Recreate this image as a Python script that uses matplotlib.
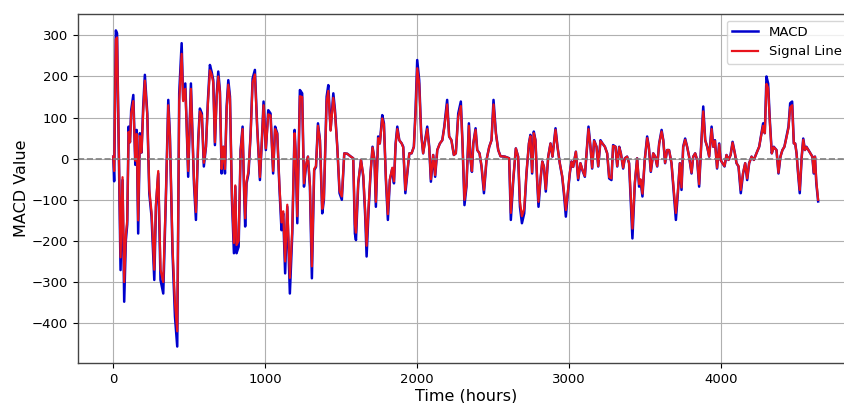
import matplotlib
matplotlib.use("Agg")
import matplotlib.pyplot as plt

# time axis (hours) -- turning points
hours = [
    0, 6, 17, 25, 40, 48, 61, 72, 83, 92,
    101, 110, 118, 132, 145, 154, 164, 175, 186, 197,
    208, 224, 237, 252, 270, 281, 296, 311, 329, 346,
    362, 373, 390, 406, 421, 434, 450, 460, 474, 482,
    493, 511, 531, 544, 559, 570, 583, 596, 610, 623,
    636, 647, 658, 669, 680, 691, 702, 713, 724, 735,
    746, 757, 768, 781, 794, 803, 811, 825, 838, 851,
    860, 868, 877, 890, 904, 917, 932, 947, 965, 978,
    989,
    1004, 1020, 1035, 1052, 1065, 1079, 1093, 1107, 1118, 1131,
    1145, 1162, 1178, 1193, 1200, 1211, 1228, 1243, 1255, 1268,
    1281, 1294, 1307, 1322, 1334, 1347, 1360, 1375, 1386, 1404,
    1415, 1430, 1448, 1459, 1474, 1489, 1504, 1520, 1540, 1560,
    1579, 1590, 1597, 1612, 1630, 1645, 1658, 1667, 1680, 1693,
    1706, 1719, 1728, 1743, 1754, 1770, 1781, 1794, 1807, 1820,
    1836, 1847, 1858, 1869, 1882, 1898, 1908, 1922, 1935, 1948,
    1963, 1978, 1989, 2000, 2013, 2026, 2039, 2052, 2066, 2079,
    2090, 2105, 2118, 2132, 2149,
    2165, 2178, 2197, 2210, 2225, 2241, 2254, 2270, 2287, 2298,
    2311, 2324, 2340, 2351, 2360, 2369, 2384, 2395, 2410, 2423,
    2439, 2456, 2474, 2489, 2502, 2518, 2533, 2548, 2577, 2605,
    2616, 2632, 2649, 2664, 2676, 2689, 2704, 2719, 2735, 2745,
    2756, 2767, 2778, 2789, 2798, 2811, 2823, 2834, 2846, 2862,
    2877, 2890, 2910, 2923, 2938, 2954, 2967, 2978, 2989, 3004,
    3015, 3026, 3044, 3059, 3074, 3087, 3103, 3114, 3127, 3140,
    3151, 3164, 3180, 3191, 3206, 3219, 3235, 3250, 3263, 3278,
    3289, 3305, 3316, 3329, 3340, 3355, 3366, 3381, 3394, 3405,
    3416, 3432, 3447, 3460, 3469, 3482, 3497, 3513, 3524, 3537,
    3553, 3566, 3579, 3592, 3608, 3619, 3631, 3644, 3657, 3673,
    3688, 3702, 3715, 3728, 3739, 3750, 3763, 3776, 3789, 3805,
    3816, 3829, 3842, 3855, 3868, 3882, 3895, 3908, 3921, 3937,
    3948, 3959, 3973, 3987, 3996, 4009, 4022, 4035, 4048, 4062,
    4075, 4090, 4101, 4114, 4129, 4144, 4158, 4171, 4184, 4200,
    4215, 4232, 4250, 4265, 4276, 4287, 4298, 4309, 4320, 4333,
    4346, 4364, 4377, 4390, 4403, 4416, 4430, 4443, 4454, 4467,
    4478, 4487, 4496, 4506, 4517, 4530, 4540, 4551, 4561, 4574,
    4587, 4600, 4609, 4617, 4626, 4638,
]

macd = [
    5, -55, 312, 305, -60, -271, -52, -348, -198, -160,
    78, 40, 118, 155, -15, 70, -182, 62, 15, 127,
    204, 110, -84, -141, -295, -117, -36, -295, -328, -100,
    143, 54, -230, -384, -457, 159, 281, 143, 183, 94,
    -44, 183, -60, -149, 45, 122, 110, -19, 29, 143,
    228, 212, 191, 33, 151, 212, 163, -36, 29, -36,
    127, 191, 151, -100, -230, -68, -230, -214, 21, 78,
    -68, -165, -60, -36, 62, 195, 216, 78, -52, 45,
    139,
    21, 118, 110, -36, 78, 62, -68, -174, -133, -279,
    -117, -328, -182, 70, 15, -157, 167, 159, -68, -19,
    5, -68, -291, -28, -20, 86, 45, -133, -100, 151,
    179, 70, 159, 118, 29, -84, -100, 13, 12, 6,
    1, -182, -198, -60, -3, -44, -141, -238, -125, -36,
    29, -3, -117, 54, 37, 106, 86, -52, -149, -52,
    -24, -60, 37, 78, 45, 37, 29, -84, -36, 13,
    13, 29, 118, 240, 191, 62, 13, 45, 78, 29,
    -56, 9, -44, 21, 37,
    45, 78, 143, 54, 45, 9, 13, 110, 139, 37,
    -113, -68, 86, -3, -32, 37, 74, 21, 13, -19,
    -84, -3, 29, 45, 143, 62, 21, 6, 5, 1,
    -149, -52, 25, 5, -117, -157, -133, -36, 37, 58,
    -36, 66, 45, -52, -117, -52, -7, -20, -80, 5,
    37, 5, 74, 29, -11, -44, -92, -141, -92, -36,
    -7, -20, 17, -52, -11, -28, -44, 13, 78, 29,
    -24, 45, 29, -19, 45, 37, 29, 13, -48, -52,
    33, 29, -19, 29, 13, -24, 1, 5, -11, -100,
    -194, -60, 1, -68, -52, -92, -3, 54, 29, -32,
    13, 5, -19, 37, 70, 45, -11, 21, 21, -11,
    -84, -149, -84, -11, -76, 29, 49, 29, 5, -36,
    5, 13, -3, -68, 29, 127, 45, 29, 5, 78,
    29, 45, -24, 37, -3, -11, -19, 9, -3, 9,
    41, 13, -11, -19, -84, -36, -11, -52, -11, 5,
    -3, 13, 29, 62, 86, 62, 200, 183, 94, 13,
    29, 21, -36, 5, 21, 29, 54, 78, 135, 139,
    37, 37, 13, -36, -84, 5, 49, 21, 29, 21,
    13, 5, -36, 5, -60, -104,
]

signal = [
    5, -30, 290, 295, -50, -240, -45, -300, -185, -150,
    65, 40, 110, 140, -5, 60, -150, 55, 15, 115,
    190, 105, -75, -130, -270, -110, -30, -270, -300, -95,
    130, 50, -215, -350, -420, 140, 255, 140, 170, 90,
    -30, 170, -50, -130, 40, 115, 105, -10, 29, 135,
    215, 205, 185, 40, 145, 200, 160, -25, 29, -25,
    120, 180, 145, -90, -205, -65, -210, -200, 20, 72,
    -60, -145, -55, -30, 60, 185, 205, 75, -45, 45,
    130,
    25, 108, 105, -30, 72, 60, -62, -155, -128, -250,
    -112, -290, -170, 62, 18, -140, 152, 150, -60, -15,
    5, -62, -262, -25, -18, 80, 45, -122, -95, 140,
    165, 68, 148, 112, 29, -78, -92, 13, 12, 6,
    1, -160, -180, -58, -3, -40, -130, -212, -118, -33,
    27, -3, -105, 50, 37, 98, 82, -48, -135, -50,
    -22, -55, 35, 72, 45, 37, 27, -76, -33, 13,
    13, 29, 110, 220, 182, 60, 13, 43, 72, 27,
    -50, 9, -40, 21, 37,
    45, 75, 132, 54, 45, 9, 13, 102, 128, 37,
    -100, -64, 80, -3, -30, 37, 70, 21, 13, -17,
    -76, -3, 29, 45, 132, 60, 21, 6, 5, 1,
    -132, -50, 25, 5, -105, -140, -122, -34, 37, 55,
    -33, 62, 45, -50, -105, -50, -7, -20, -74, 5,
    37, 5, 70, 29, -11, -42, -85, -125, -88, -34,
    -7, -20, 17, -48, -11, -27, -42, 13, 72, 29,
    -22, 43, 29, -18, 43, 37, 29, 13, -45, -48,
    31, 29, -18, 28, 13, -22, 1, 5, -11, -92,
    -170, -58, 1, -62, -50, -85, -3, 50, 29, -30,
    13, 5, -18, 36, 66, 45, -10, 21, 21, -10,
    -76, -132, -80, -11, -70, 28, 46, 29, 5, -34,
    5, 13, -3, -62, 28, 115, 45, 29, 5, 72,
    29, 43, -22, 35, -3, -11, -18, 9, -3, 9,
    39, 13, -11, -18, -76, -35, -11, -48, -11, 5,
    -3, 13, 29, 60, 80, 62, 182, 172, 90, 13,
    28, 21, -34, 5, 21, 29, 52, 75, 125, 130,
    37, 37, 13, -34, -76, 5, 46, 21, 28, 21,
    13, 5, -34, 5, -55, -100,
]

fig = plt.figure(figsize=(8.45, 4.03), dpi=100)
ax = fig.add_axes([0.0923, 0.0993, 0.918, 0.866])

ax.plot(hours, macd, color="mediumblue", linewidth=1.8, label="MACD")
ax.plot(hours, signal, color="#e8141c", linewidth=1.6, label="Signal Line")
ax.axhline(0, color="gray", linestyle="--", linewidth=1.2)

ax.set_xlim(-232, 4872)
ax.set_ylim(-497, 352)
ax.set_xticks([0, 1000, 2000, 3000, 4000])
ax.set_yticks([-400, -300, -200, -100, 0, 100, 200, 300])
ax.tick_params(labelsize=9.5)
ax.grid(True, color="#b0b0b0", linewidth=0.8)
for s in ax.spines.values():
    s.set_color("#444444")
    s.set_linewidth(1.0)

ax.set_xlabel("Time (hours)", fontsize=11.5, labelpad=2)
ax.set_ylabel("MACD Value", fontsize=11.5, labelpad=2)
ax.legend(loc="upper right", fontsize=9.5)

fig.savefig("out.png", dpi=100)
